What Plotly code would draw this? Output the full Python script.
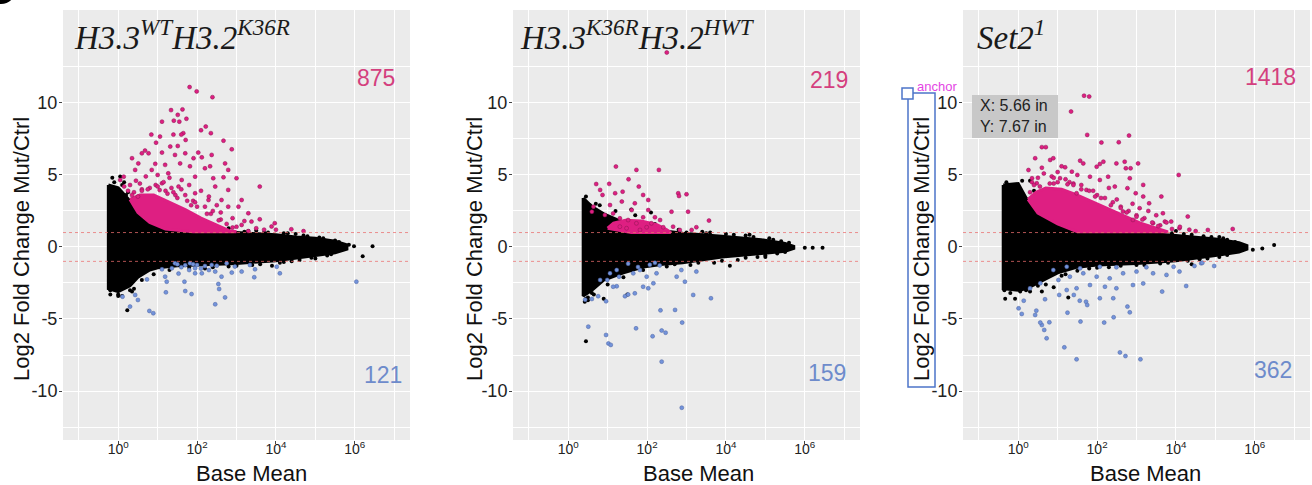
import numpy as np
import plotly.graph_objects as go

# ---------------- data (x values are log10 of Base Mean) ----------------
# Panel 1: H3.3WT H3.2K36R
p1_env_x = [-0.25, 0.0, 0.3, 0.5, 0.8, 1.0, 1.5, 2.0, 3.0, 4.0, 4.5, 5.0, 5.5, 5.8]
p1_env_hi = [4.3, 4.1, 3.2, 2.4, 1.7, 1.4, 1.15, 1.05, 1.0, 0.85, 0.7, 0.6, 0.4, 0.15]
p1_env_lo = [-2.9, -3.1, -2.7, -2.1, -1.6, -1.45, -1.3, -1.25, -1.15, -0.95, -0.8, -0.6, -0.4, -0.15]
p1_black_x = [0.23, 6.45, 6.2, 5.98, 5.85, -0.15, 0.05, 2.8, 3.5, 4.5, 5.0, 4.2, 3.9, 0.1, 0.35,
              1.2, 1.6, 2.2, 2.7, 3.3, 3.8, 4.3, 4.8, 5.2, 5.5, 0.6, 0.9, 1.3, 1.8, 2.4, 3.0,
              3.6, 4.1, 4.6, 5.3, 0.0, -0.2, 0.4, 0.2, 1.0, 1.5, 2.0, 0.7, 0.45, 0.15,
              2.5, 3.2, 3.7, 4.2, 4.7, 5.1, 5.6, 2.2, 2.8, 3.4, 4.4, 4.9, 5.4, -0.1, 0.1, 0.25,
              -0.2, 0.0, 0.3]
p1_black_y = [-4.4, 0.05, -0.65, 0.05, 0.15, 4.8, 4.9, 1.3, 1.15, 0.9, -0.8, -1.05, -1.3, -3.4, -3.1,
              1.5, 1.3, 1.2, 1.15, 1.1, 1.0, 0.95, 0.75, 0.6, 0.45, -2.3, -1.9, -1.6, -1.45, -1.4, -1.3,
              -1.2, -1.1, -0.9, -0.6, -3.3, -3.0, -2.9, 3.6, 2.5, 2.0, 1.6, 3.0, 3.4, 4.5,
              1.1, 1.05, 1.0, 0.95, 0.8, 0.65, 0.35, -1.5, -1.35, -1.25, -1.0, -0.75, -0.5, 4.5, 4.3, 3.8,
              -3.3, -3.4, -3.0]
p1_core_x = [0.3, 0.55, 0.9, 1.3, 1.7, 2.1, 2.5, 2.8, 3.0, 1.9, 1.2, 0.8, 0.5]
p1_core_y = [3.3, 3.6, 3.6, 3.1, 2.6, 2.0, 1.5, 1.15, 1.05, 1.05, 1.25, 1.7, 2.4]
p1_pink_x = [1.81, 1.99, 2.39, 1.34, 1.63, 1.51, 1.41, 1.11, 1.73, 1.55, 2.22, 2.10, 2.35, 1.65, 1.60,
             0.84, 1.06, 1.40, 2.67, 1.71, 1.32, 1.51, 0.96, 2.88, 0.68, 0.60, 0.35, 0.77, 1.11, 1.44,
             1.70, 1.91, 2.03, 2.12, 2.37, 2.71, 0.51, 0.94, 1.19, 1.57, 1.82, 2.20, 2.33, 2.79, 3.59,
             3.00, 2.67, 2.41, 1.95, 1.61, 1.27, 0.85, 0.43, 0.14, 0.05, 2.79, 2.62, 3.13, 3.05, 3.30,
             2.79, 3.59, 3.97, 3.89, 4.39, 3.13, 3.38, 2.29, 1.95, 2.46, 1.53, 1.11,
             0.3, 0.45, 0.7, 1.0, 1.3, 1.8, 2.1, 2.3, 2.5, 2.6, 2.9, 3.2, 3.5, 3.7, 2.2, 1.9, 0.25,
             0.15, 1.15, 1.6, 3.0, 3.3, 4.0, 4.7, 0.4, 0.6, 0.8, 1.2, 1.45, 1.75, 2.0, 2.35, 2.6,
             2.75, 0.55, 0.95, 1.35, 1.7,
             0.35, 0.6, 0.75, 1.05, 1.25, 1.5, 1.85, 2.25, 2.55, 2.9, 0.5, 1.0, 1.4, 1.95, 2.4]
p1_pink_y = [11.1, 10.8, 10.4, 9.5, 9.55, 9.17, 8.77, 8.7, 8.9, 8.7, 8.36, 8.1, 7.9, 7.9, 7.8,
             7.8, 7.66, 7.8, 7.38, 7.43, 6.97, 7.01, 7.24, 6.78, 6.69, 6.5, 6.16, 6.5, 6.55, 6.39,
             6.5, 6.16, 6.55, 6.22, 6.39, 5.8, 5.8, 5.77, 5.7, 5.8, 5.6, 5.46, 5.6, 5.35, 4.19,
             4.77, 4.84, 4.77, 4.88, 4.65, 5.11, 5.35, 5.35, 4.88, 4.65, 3.96, 3.26, 3.26, 2.8, 2.34,
             2.8, 1.92, 1.65, 1.42, 1.23, 1.53, 1.76, 3.26, 3.73, 4.19, 4.19, 4.42,
             4.3, 4.6, 4.9, 5.0, 4.8, 4.3, 3.9, 3.5, 2.9, 2.4, 2.0, 1.8, 1.3, 1.2, 2.8, 3.2, 3.9,
             4.2, 4.5, 4.0, 1.4, 1.1, 1.2, 1.1, 3.8, 4.0, 4.1, 3.9, 3.6, 3.2, 2.8, 2.3, 1.9,
             1.6, 4.4, 4.3, 4.1, 3.6,
             3.6, 3.9, 4.0, 3.95, 3.7, 3.4, 2.9, 2.3, 1.85, 1.35, 3.5, 4.2, 3.8, 3.1, 2.5]
p1_blue_x = [1.36, 1.53, 1.70, 1.95, 2.2, 2.37, 2.46, 1.19, 1.23, 1.68, 0.73, 1.21, 1.70, 1.86, 2.54,
             2.56, 2.71, 2.46, 2.88, 3.13, 3.45, 3.47, 4.02, 4.10, 3.34, 2.96, 0.11, 0.30, 0.43, 0.50,
             0.79, 0.89, 6.04, 2.12, 2.75, 1.44, 1.82, 1.95, 1.11, 2.62,
             1.5, 1.6, 1.9, 2.1, 2.3, 2.5, 1.8, 2.0]
p1_blue_y = [-1.48, -1.85, -1.27, -1.48, -1.32, -1.25, -1.71, -2.06, -2.41, -2.41, -2.25, -3.15, -3.06, -3.27, -2.57,
             -2.92, -3.5, -3.98, -1.78, -1.71, -2.1, -1.55, -1.37, -1.83, -1.25, -1.36, -3.45, -4.14, -3.33, -3.68,
             -4.44, -4.6, -2.41, -1.83, -1.13, -1.13, -1.13, -1.83, -1.55, -2.06,
             -1.2, -1.4, -1.2, -1.5, -1.6, -1.3, -1.6, -1.25]

# Panel 2: H3.3K36R H3.2HWT
p2_env_x = [0.38, 0.6, 0.9, 1.4, 1.9, 2.4, 2.9, 3.9, 4.9, 5.5, 5.72]
p2_env_hi = [3.4, 2.8, 2.3, 1.7, 1.3, 1.1, 0.95, 0.75, 0.5, 0.25, 0.05]
p2_env_lo = [-3.4, -3.0, -2.3, -1.8, -1.4, -1.2, -1.1, -0.7, -0.45, -0.3, -0.1]
p2_black_x = [0.45, 6.2, 6.45, 6.0, 0.45, 4.1, 3.6, 4.6, 5.0, 1.5, 0.9, 1.6, 2.1, 0.5, 0.7,
              0.8, 1.2, 1.7, 2.2, 2.8, 3.4, 4.0, 4.5, 5.1, 5.4, 0.6, 1.0, 1.4, 1.9, 2.5, 3.1,
              3.7, 4.3, 4.8, 5.3, 0.42, 0.5,
              3.0, 3.5, 4.2, 4.7, 5.2, 5.6, 2.7, 3.3, 3.9, 4.5, 5.0, 5.5, 0.45, 0.55, 0.65]
p2_black_y = [-6.55, -0.05, -0.05, -0.05, 3.5, -1.3, 1.0, 0.85, -0.7, -3.3, -3.6, 2.6, 2.4, -3.7, 3.0,
              2.9, 2.5, 2.2, 1.6, 1.2, 1.05, 0.9, 0.8, 0.6, 0.4, -3.2, -2.6, -2.1, -1.6, -1.35, -1.25,
              -1.1, -0.9, -0.7, -0.45, -3.8, -3.5,
              1.0, 0.95, 0.85, 0.7, 0.5, 0.3, -1.2, -1.1, -0.95, -0.75, -0.6, -0.35, -3.6, 2.9, -3.3]
p2_core_x = [1.0, 1.15, 1.45, 1.85, 2.25, 2.5, 2.6, 1.6]
p2_core_y = [1.3, 1.65, 1.85, 1.8, 1.55, 1.2, 1.0, 1.0]
p2_pink_x = [1.21, 1.73, 2.30, 1.04, 0.71, 1.53, 1.79, 1.19, 1.38, 0.81, 0.87, 1.36, 1.69, 1.90, 2.03,
             2.79, 2.81, 3.00, 2.62, 3.04, 3.57, 3.25, 3.13, 2.33, 2.41, 2.11, 1.90, 1.73, 1.82, 1.52,
             1.31, 1.14, 0.93, 0.64, 0.60, 1.06, 1.61, 2.03, 2.20, 2.66, 2.83, 1.31, 1.48, 1.99, 2.50]
p2_pink_y = [5.58, 5.35, 5.35, 4.38, 4.37, 4.7, 4.19, 3.73, 3.84, 3.96, 3.61, 3.15, 3.03, 3.61, 3.26,
             3.73, 3.54, 3.66, 2.45, 2.45, 1.83, 1.37, 1.18, 1.87, 1.37, 1.64, 2.06, 1.64, 1.18, 1.87,
             1.99, 2.33, 2.22, 2.8, 2.45, 2.91, 2.56, 2.56, 2.06, 1.41, 1.18, 1.41, 1.3, 1.37, 13.5]
p2_blue_x = [0.51, 0.96, 1.02, 1.08, 1.72, 2.14, 2.37, 2.47, 2.34, 2.71, 2.89, 2.37, 2.88, 0.43, 0.60,
             0.76, 0.96, 1.23, 1.44, 1.52, 1.14, 0.99, 1.29, 1.65, 1.82, 1.99, 1.90, 2.16, 1.69, 2.03,
             2.24, 2.87, 2.96, 3.17, 3.62, 3.25, 2.75, 1.52, 1.77, 2.07, 2.32, 1.06, 0.81, 2.20, 1.23]
p2_blue_y = [-5.53, -6.11, -6.7, -6.8, -5.65, -6.2, -5.8, -5.95, -4.4, -4.37, -5.25, -7.96, -11.16, -3.66, -3.61,
             -3.42, -3.77, -2.73, -3.42, -3.3, -2.76, -2.29, -2.06, -1.83, -1.6, -2.06, -2.76, -2.52, -3.22, -2.87,
             -1.83, -1.6, -2.41, -3.33, -3.56, -1.71, -2.06, -1.16, -1.39, -1.23, -1.28, -1.83, -2.29, -1.1, -1.6]

# Panel 3: Set2^1
p3_env_x = [-0.38, 0.0, 0.2, 0.5, 1.0, 1.5, 2.0, 3.0, 4.0, 5.0, 5.6, 5.8]
p3_env_hi = [4.3, 4.4, 3.4, 2.35, 1.6, 1.2, 1.1, 1.0, 0.8, 0.55, 0.3, 0.1]
p3_env_lo = [-2.9, -3.0, -2.9, -2.5, -1.8, -1.4, -1.25, -1.15, -0.95, -0.6, -0.35, -0.15]
p3_black_x = [-0.33, -0.08, 1.27, 5.95, 6.19, 6.49, 0.3, 4.4, 4.0, 5.1, 0.6, 0.9,
              2.4, 2.9, 3.4, 3.9, 4.4, 4.9, 5.3, 0.3, 0.7, 1.1, 1.5, 2.0, 2.6, 3.2, 3.8, 4.3,
              4.8, 5.3, -0.3, 0.1, 0.4, 0.8, 1.3,
              2.3, 2.8, 3.5, 4.2, 4.7, 5.2, 5.5, 0.2, 0.5, 1.2, 1.8, 2.3, 3.0, 3.6, 4.6, 5.1,
              -0.35, -0.2, 0.05]
p3_black_y = [-3.6, -3.6, -3.5, -0.2, -0.1, 0.14, 4.6, -1.2, 1.1, 0.7, -3.1, -2.8,
              1.2, 1.1, 1.05, 0.95, 0.85, 0.7, 0.5, -3.1, -2.6, -2.0, -1.65, -1.45, -1.3, -1.25, -1.1, -0.95,
              -0.8, -0.55, 4.5, 4.6, 3.9, 2.6, 1.8,
              1.15, 1.1, 1.0, 0.9, 0.75, 0.6, 0.35, -3.0, -2.7, -1.9, -1.5, -1.4, -1.25, -1.15, -0.85, -0.7,
              -3.0, -3.2, -3.1]
p3_core_x = [0.25, 0.45, 0.7, 1.1, 1.5, 1.9, 2.3, 2.7, 3.1, 3.5, 3.8, 1.5, 1.0, 0.5]
p3_core_y = [3.3, 3.8, 4.1, 4.0, 3.6, 3.1, 2.6, 2.1, 1.65, 1.3, 1.05, 1.05, 1.6, 2.35]
p3_pink_x = [1.67, 1.80, 1.34, 1.75, 2.11, 2.55, 2.81, 0.60, 0.70, 0.43, 0.81, 0.89, 1.57, 1.65, 2.07,
             2.16, 2.49, 2.70, 2.73, 2.85, 3.04, 4.07, 1.99, 2.07, 2.28, 2.83, 3.17, 2.77, 2.45, 1.82,
             1.36, 1.19, 1.06, 0.26, 0.35, 0.47, 3.63, 3.17, 2.98, 3.32, 3.67, 4.30, 3.72, 3.88, 4.81,
             5.44, 4.09, 3.42, 2.91, 2.66, 3.08, 1.73, 1.48, 4.34, 3.76,
             0.35, 0.5, 0.65, 0.85, 1.0, 1.2, 1.4, 1.6, 1.8, 2.0, 2.2, 2.4, 2.6, 2.8, 3.0, 3.2, 3.4,
             3.6, 3.9, 4.1, 4.5, 0.6, 1.1, 1.5, 2.3, 2.9, 3.5, 0.9, 1.3, 1.9, 2.5, 3.3,
             0.3, 0.55, 0.8, 1.0, 1.25, 1.6, 1.95, 2.35, 2.75, 3.15, 3.55, 0.4, 0.9, 1.4, 2.1, 2.6, 3.0]
p3_pink_y = [10.5, 10.44, 9.4, 7.78, 7.25, 7.27, 7.73, 6.93, 6.93, 6.16, 6.04, 6.16, 5.99, 5.8, 5.76,
             5.92, 5.8, 5.92, 5.46, 5.46, 5.8, 5.0, 5.57, 4.65, 4.88, 4.77, 4.31, 4.08, 4.19, 4.88,
             5.23, 5.53, 4.77, 5.34, 4.77, 4.42, 3.5, 3.5, 3.73, 3.03, 2.34, 2.11, 1.76, 1.76, 1.18,
             1.25, 1.3, 1.65, 1.88, 2.46, 2.69, 3.96, 3.73, 1.2, 1.7,
             4.5, 4.8, 5.1, 4.9, 5.2, 4.7, 4.4, 4.3, 3.9, 3.6, 3.4, 3.1, 2.8, 2.5, 2.2, 2.0, 1.7,
             1.5, 1.25, 1.4, 1.1, 5.5, 5.6, 5.0, 4.1, 3.0, 2.2, 4.4, 4.5, 3.9, 3.3, 2.5,
             3.8, 4.2, 4.4, 4.5, 4.35, 4.0, 3.5, 2.9, 2.4, 1.9, 1.45, 4.3, 4.8, 4.3, 3.4, 2.7, 2.1]
p3_blue_x = [1.48, 1.17, 2.58, 2.72, 3.10, 0.72, 0.66, 0.60, 0.56, 0.79, 1.58, 2.18, 2.42, 2.77, 2.83,
             1.25, 0.43, 0.46, 0.09, 0.01, 0.14, 0.68, 1.04, 1.41, 1.56, 1.72, 1.75, 2.07, 2.41, 3.65,
             4.26, 2.91, 3.17, 2.49, 2.20, 1.82, 1.48, 1.23, 1.02, 1.31, 1.65, 1.99, 2.32, 2.66, 3.00,
             3.42, 3.76, 3.94, 4.09, 4.64, 4.97, 4.47, 0.89, 1.23, 1.57, 2.07, 2.49, 3.25, 0.56, 0.30, 4.67]
p3_blue_y = [-7.8, -6.97, -7.32, -7.57, -7.8, -6.34, -5.76, -5.42, -5.25, -5.23, -5.18, -5.25, -4.88, -4.14, -4.54,
             -4.56, -4.72, -4.42, -4.65, -4.26, -3.73, -3.63, -3.33, -3.33, -3.73, -3.8, -4.03, -3.56, -3.56, -3.1,
             -2.71, -2.64, -2.53, -2.87, -2.76, -2.64, -2.87, -2.99, -2.29, -2.06, -1.83, -2.06, -2.18, -1.83, -1.71,
             -1.83, -1.94, -1.37, -1.71, -1.13, -1.32, -1.32, -1.6, -1.37, -1.48, -1.37, -1.41, -1.41, -2.52, -2.87, -1.1]

titles = ["<i>H3.3<sup>WT</sup>H3.2<sup>K36R</sup></i>",
          "<i>H3.3<sup>K36R</sup>H3.2<sup>HWT</sup></i>",
          "<i>Set2<sup>1</sup></i>"]
up_counts = ["875", "219", "1418"]
down_counts = ["121", "159", "362"]
x_tick_vals = [1, 100, 1e4, 1e6]
x_tick_text = ["10<sup>0</sup>", "10<sup>2</sup>", "10<sup>4</sup>", "10<sup>6</sup>"]
y_tick_vals = [-10, -5, 0, 5, 10]

# ---------------- figure ----------------
W, H = 1312, 485
MT, MB = 10, 45
PH = H - MT - MB
BLACK, PINK, BLUE = "#000000", "#DE1F82", "#7393DA"
PINK_TXT, BLUE_TXT = "#D43F7E", "#6E8BCB"

def py(ypx):
    return (H - MB - ypx) / PH

panels = [
    dict(env=(p1_env_x, p1_env_hi, p1_env_lo), blk=(p1_black_x, p1_black_y), core=(p1_core_x, p1_core_y),
         pink=(p1_pink_x, p1_pink_y), blue=(p1_blue_x, p1_blue_y), left=63),
    dict(env=(p2_env_x, p2_env_hi, p2_env_lo), blk=(p2_black_x, p2_black_y), core=(p2_core_x, p2_core_y),
         pink=(p2_pink_x, p2_pink_y), blue=(p2_blue_x, p2_blue_y), left=513),
    dict(env=(p3_env_x, p3_env_hi, p3_env_lo), blk=(p3_black_x, p3_black_y), core=(p3_core_x, p3_core_y),
         pink=(p3_pink_x, p3_pink_y), blue=(p3_blue_x, p3_blue_y), left=963),
]
PW = 347
title_left = [72, 518, 975]
ytitle_x = [21, 474, 921]
xtitle_x = [251, 699, 1145]
cnt_up = [(376, 78), (829, 80), (1270, 77)]
cnt_dn = [(383, 375), (827, 373), (1273, 370)]

fig = go.Figure()
annotations = []
shapes = []
for i, p in enumerate(panels):
    xa = "x" if i == 0 else f"x{i+1}"
    ya = "y" if i == 0 else f"y{i+1}"
    ex, ehi, elo = p["env"]
    poly_x = list(ex) + list(ex)[::-1] + [ex[0]]
    poly_y = list(ehi) + list(elo)[::-1] + [ehi[0]]
    fig.add_trace(go.Scatter(x=10 ** np.array(poly_x), y=poly_y, mode="lines", fill="toself",
                             fillcolor=BLACK, line=dict(color=BLACK, width=3), xaxis=xa, yaxis=ya,
                             hoverinfo="skip", showlegend=False))
    bx, byv = p["blk"]
    fig.add_trace(go.Scatter(x=10 ** np.array(bx), y=byv, mode="markers",
                             marker=dict(color=BLACK, size=4), xaxis=xa, yaxis=ya, showlegend=False))
    cx, cy = p["core"]
    fig.add_trace(go.Scatter(x=10 ** np.array(list(cx) + [cx[0]]), y=list(cy) + [cy[0]], mode="lines",
                             fill="toself", fillcolor=PINK, line=dict(color=PINK, width=3),
                             xaxis=xa, yaxis=ya, hoverinfo="skip", showlegend=False))
    kx, ky = p["pink"]
    fig.add_trace(go.Scatter(x=10 ** np.array(kx), y=ky, mode="markers",
                             marker=dict(color=PINK, size=4, line=dict(color="#8a1450", width=0.5)),
                             xaxis=xa, yaxis=ya, showlegend=False))
    ux, uy = p["blue"]
    fig.add_trace(go.Scatter(x=10 ** np.array(ux), y=uy, mode="markers",
                             marker=dict(color=BLUE, size=4, line=dict(color="#4d63a0", width=0.5)),
                             xaxis=xa, yaxis=ya, showlegend=False))

    left = p["left"]
    dom = [left / W, (left + PW) / W]
    xkey = "xaxis" if i == 0 else f"xaxis{i+1}"
    ykey = "yaxis" if i == 0 else f"yaxis{i+1}"
    fig.update_layout(**{
        xkey: dict(domain=dom, type="log", range=[-1.4, 7.4], anchor=ya,
                   tickvals=x_tick_vals, ticktext=x_tick_text,
                   showgrid=True, gridcolor="white", gridwidth=1.2, zeroline=False, showline=False,
                   ticks="outside", ticklen=3, tickcolor="#444", ticklabelstandoff=-7,
                   tickfont=dict(family="Liberation Sans", size=14, color="#222"),
                   minor=dict(tickvals=[0.1, 10, 1e3, 1e5, 1e7], showgrid=True,
                              gridcolor="white", gridwidth=0.6, ticks="")),
        ykey: dict(domain=[0, 1], range=[-13.4, 16.45], anchor=xa,
                   tickvals=y_tick_vals, ticktext=[str(v) for v in y_tick_vals],
                   showgrid=True, gridcolor="white", gridwidth=1.2, zeroline=False, showline=False,
                   ticks="outside", ticklen=3, tickcolor="#444", ticklabelstandoff=-2,
                   tickfont=dict(family="Liberation Sans", size=18, color="#222"),
                   minor=dict(tickvals=[-12.5, -7.5, -2.5, 2.5, 7.5, 12.5], showgrid=True,
                              gridcolor="white", gridwidth=0.6, ticks="")),
    })
    for yv in (1, -1):
        shapes.append(dict(type="line", xref=f"{xa} domain", yref=ya, x0=0, x1=1, y0=yv, y1=yv,
                           line=dict(color="rgba(235,110,110,0.75)", width=1, dash="dot"), layer="above"))
    annotations.append(dict(text=titles[i], xref="paper", yref="paper", x=title_left[i] / W, y=py(35),
                            xanchor="left", yanchor="middle", showarrow=False,
                            font=dict(family="Liberation Serif", size=33, color="#1a1a1a")))
    annotations.append(dict(text=up_counts[i], xref="paper", yref="paper", x=cnt_up[i][0] / W,
                            y=py(cnt_up[i][1]), xanchor="center", yanchor="middle", showarrow=False,
                            font=dict(family="Liberation Sans", size=23, color=PINK_TXT)))
    annotations.append(dict(text=down_counts[i], xref="paper", yref="paper", x=cnt_dn[i][0] / W,
                            y=py(cnt_dn[i][1]), xanchor="center", yanchor="middle", showarrow=False,
                            font=dict(family="Liberation Sans", size=23, color=BLUE_TXT)))
    annotations.append(dict(text="Log2 Fold Change Mut/Ctrl", xref="paper", yref="paper",
                            x=ytitle_x[i] / W, y=py(249), textangle=-90, xanchor="center",
                            yanchor="middle", showarrow=False,
                            font=dict(family="Liberation Sans", size=22, color="#111")))
    annotations.append(dict(text="Base Mean", xref="paper", yref="paper", x=xtitle_x[i] / W,
                            y=py(473), xanchor="center", yanchor="middle", showarrow=False,
                            font=dict(family="Liberation Sans", size=22, color="#111")))

# screenshot overlay artefacts in the third panel
shapes.append(dict(type="rect", xref="paper", yref="paper", x0=908 / W, x1=935 / W, y0=py(387), y1=py(93),
                   line=dict(color="#4C74C9", width=1.5), fillcolor="rgba(0,0,0,0)"))
shapes.append(dict(type="rect", xref="paper", yref="paper", x0=902 / W, x1=913 / W, y0=py(99), y1=py(88),
                   line=dict(color="#4C74C9", width=1.5), fillcolor="white"))
shapes.append(dict(type="rect", xref="paper", yref="paper", x0=972 / W, x1=1058 / W, y0=py(138), y1=py(95),
                   line=dict(width=0), fillcolor="#C8C8C8"))
shapes.append(dict(type="circle", xref="paper", yref="paper", x0=-14 / W, x1=16 / W, y0=py(4), y1=py(-26),
                   line=dict(width=0), fillcolor="black"))
annotations.append(dict(text="anchor", xref="paper", yref="paper", x=915 / W, y=py(86), xanchor="left",
                        yanchor="middle", showarrow=False,
                        font=dict(family="Liberation Sans", size=13, color="#E445E4")))
annotations.append(dict(text="X: 5.66 in<br>Y: 7.67 in", xref="paper", yref="paper", x=978 / W, y=py(116),
                        xanchor="left", yanchor="middle", align="left", showarrow=False,
                        font=dict(family="Liberation Sans", size=16, color="#222")))

fig.update_layout(width=W, height=H, margin=dict(l=0, r=0, t=MT, b=MB),
                  paper_bgcolor="white", plot_bgcolor="#EBEBEB", showlegend=False,
                  annotations=annotations, shapes=shapes)
fig.write_html("out.html", config={"displayModeBar": False},
               post_script="document.body.style.margin='0';document.body.style.overflow='hidden';")
